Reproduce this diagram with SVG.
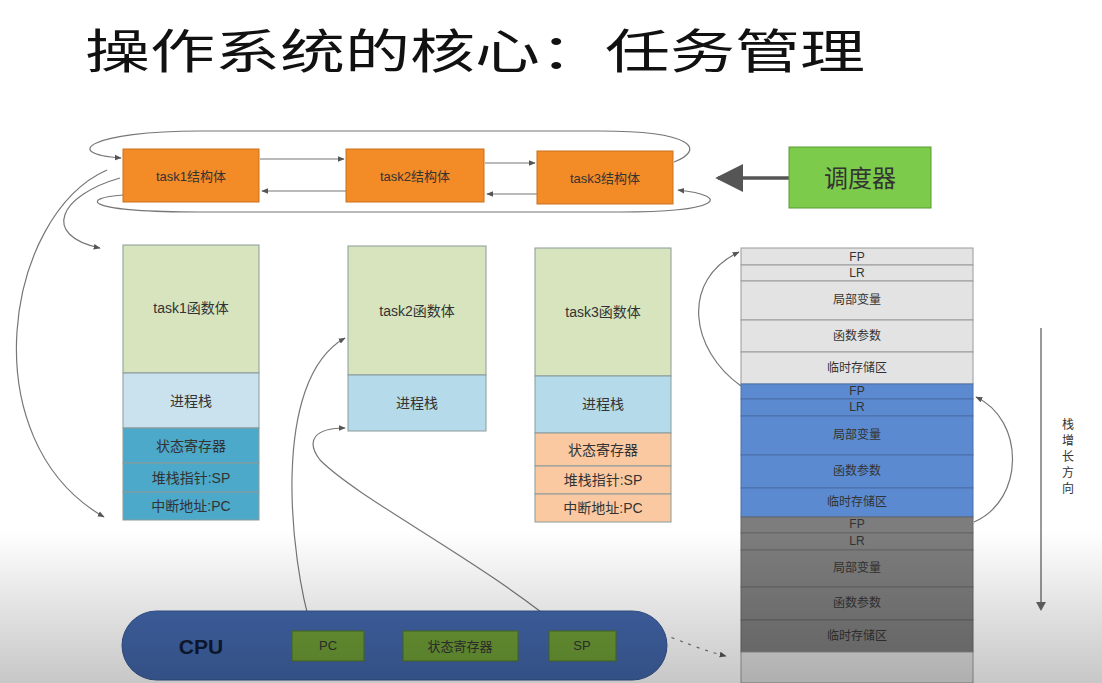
<svg xmlns="http://www.w3.org/2000/svg" width="1102" height="683" viewBox="0 0 1102 683">
<defs>
<marker id="ah" viewBox="0 0 10 10" refX="9" refY="5" markerWidth="7" markerHeight="7" orient="auto" markerUnits="userSpaceOnUse">
<path d="M0,1 L10,5 L0,9 z" fill="#555"/>
</marker>
<marker id="ahBig" viewBox="0 0 10 10" refX="9" refY="5" markerWidth="8" markerHeight="8" orient="auto">
<path d="M0,0 L10,5 L0,10 z" fill="#555"/>
</marker>
<linearGradient id="dim" x1="0" y1="0" x2="0" y2="1">
<stop offset="0" stop-color="#000" stop-opacity="0"/>
<stop offset="1" stop-color="#000" stop-opacity="0.22"/>
</linearGradient>
<style>
text{font-family:"Liberation Sans","Noto Sans CJK SC",sans-serif;fill:#333;text-anchor:middle;dominant-baseline:central}
.ts{fill:#F38B26;stroke:#C97020;stroke-width:1}
.cell{stroke:#8a9a9a;stroke-width:1}
.t13{font-size:13px}
.t14{font-size:14px}
.t12{font-size:12px}
.conn{fill:none;stroke:#777;stroke-width:1.2}
.f1{fill:#E3E3E3;stroke:#9a9a9a;stroke-width:1}
.f2{fill:#5B8AD0;stroke:#4a6ea8;stroke-width:1}
.f3{fill:#7d7d7d;stroke:#666;stroke-width:1}
.gb{fill:#6F9E36;stroke:#4e7526;stroke-width:1}
</style>
</defs>
<rect width="1102" height="683" fill="#fff"/>
<text x="85" y="51" style="text-anchor:start;font-size:47px;fill:#111" textLength="780" lengthAdjust="spacingAndGlyphs">操作系统的核心：任务管理</text>

<g id="connectors">
<line class="conn" x1="260" y1="159" x2="344" y2="159" marker-end="url(#ah)"/>
<line class="conn" x1="346" y1="191" x2="262" y2="191" marker-end="url(#ah)"/>
<line class="conn" x1="485" y1="163" x2="535" y2="163" marker-end="url(#ah)"/>
<line class="conn" x1="537" y1="194" x2="487" y2="194" marker-end="url(#ah)"/>
<path class="conn" d="M674,162 C705,150 695,131 600,131 L200,131 C90,131 60,154 121,158" marker-end="url(#ah)"/>
<path class="conn" d="M123,195 C80,198 82,212 200,212 L620,212 C722,212 732,196 678,190" marker-end="url(#ah)"/>
<line x1="789" y1="178" x2="718" y2="178" stroke="#555" stroke-width="3.5" marker-end="url(#ahBig)"/>
<path class="conn" d="M107,170 C5,215 -30,440 104,517" marker-end="url(#ah)"/>
<path class="conn" d="M120,178 C60,195 40,235 100,248" marker-end="url(#ah)"/>
<path class="conn" d="M312,630 C290,560 270,380 345,338" marker-end="url(#ah)"/>
<path class="conn" d="M565,631 C480,560 360,500 320,460 C305,440 315,428 345,428" marker-end="url(#ah)"/>
<path class="conn" d="M646,628 C680,640 700,650 726,656" stroke-dasharray="3,6" marker-end="url(#ah)"/>
<path class="conn" d="M741,386 C690,350 680,280 739,252" marker-end="url(#ah)"/>
<path class="conn" d="M974,522 C1025,500 1025,420 976,397" marker-end="url(#ah)"/>
<line x1="1041" y1="328" x2="1041" y2="602" stroke="#999" stroke-width="2"/>
<path d="M1036,602 L1046,602 L1041,611 z" fill="#666"/>
</g>

<g id="task1-struct"><rect class="ts" x="123" y="149" width="136" height="53"/><text class="t13" x="191" y="176">task1结构体</text></g>
<g id="task2-struct"><rect class="ts" x="346" y="149" width="138" height="53"/><text class="t13" x="415" y="176">task2结构体</text></g>
<g id="task3-struct"><rect class="ts" x="537" y="151" width="136" height="53"/><text class="t13" x="605" y="178">task3结构体</text></g>
<g id="scheduler"><rect x="789" y="147" width="142" height="61" fill="#7CCB4A" stroke="#5a9a35"/><text x="860" y="178" style="font-size:24px">调度器</text></g>

<g id="task1-body">
<rect class="cell" x="123" y="245" width="136" height="128" fill="#D7E4BD"/><text class="t14" x="191" y="308">task1函数体</text>
<rect class="cell" x="123" y="373" width="136" height="55" fill="#C9E2EE"/><text class="t14" x="191" y="401">进程栈</text>
<rect class="cell" x="123" y="428" width="136" height="35" fill="#4CA9C9"/><text class="t14" x="191" y="446">状态寄存器</text>
<rect class="cell" x="123" y="463" width="136" height="29" fill="#4CA9C9"/><text class="t14" x="191" y="478">堆栈指针:SP</text>
<rect class="cell" x="123" y="492" width="136" height="28" fill="#4CA9C9"/><text class="t14" x="191" y="506">中断地址:PC</text>
</g>
<g id="task2-body">
<rect class="cell" x="348" y="246" width="138" height="129" fill="#D7E4BD"/><text class="t14" x="417" y="311">task2函数体</text>
<rect class="cell" x="348" y="375" width="138" height="56" fill="#B5DBEA"/><text class="t14" x="417" y="403">进程栈</text>
</g>
<g id="task3-body">
<rect class="cell" x="535" y="248" width="136" height="128" fill="#D7E4BD"/><text class="t14" x="603" y="312">task3函数体</text>
<rect class="cell" x="535" y="376" width="136" height="57" fill="#B5DBEA"/><text class="t14" x="603" y="404">进程栈</text>
<rect class="cell" x="535" y="433" width="136" height="33" fill="#FAC9A1"/><text class="t14" x="603" y="450">状态寄存器</text>
<rect class="cell" x="535" y="466" width="136" height="28" fill="#FAC9A1"/><text class="t14" x="603" y="480">堆栈指针:SP</text>
<rect class="cell" x="535" y="494" width="136" height="28" fill="#FAC9A1"/><text class="t14" x="603" y="508">中断地址:PC</text>
</g>

<g id="stack-frame1">
<rect class="f1" x="741" y="248" width="232" height="17" fill="#F3F3F3"/><text class="t12" x="857" y="257">FP</text>
<rect class="f1" x="741" y="265" width="232" height="16"/><text class="t12" x="857" y="273">LR</text>
<rect class="f1" x="741" y="281" width="232" height="39"/><text class="t12" x="857" y="300">局部变量</text>
<rect class="f1" x="741" y="320" width="232" height="32"/><text class="t12" x="857" y="336">函数参数</text>
<rect class="f1" x="741" y="352" width="232" height="32"/><text class="t12" x="857" y="368">临时存储区</text>
</g>
<g id="stack-frame2">
<rect class="f2" x="741" y="384" width="232" height="15"/><text class="t12" x="857" y="391">FP</text>
<rect class="f2" x="741" y="399" width="232" height="17"/><text class="t12" x="857" y="407">LR</text>
<rect class="f2" x="741" y="416" width="232" height="39"/><text class="t12" x="857" y="435">局部变量</text>
<rect class="f2" x="741" y="455" width="232" height="33"/><text class="t12" x="857" y="471">函数参数</text>
<rect class="f2" x="741" y="488" width="232" height="29"/><text class="t12" x="857" y="502">临时存储区</text>
</g>
<g id="stack-frame3">
<rect class="f3" x="741" y="517" width="232" height="16"/><text class="t12" x="857" y="524">FP</text>
<rect class="f3" x="741" y="533" width="232" height="17"/><text class="t12" x="857" y="541">LR</text>
<rect class="f3" x="741" y="550" width="232" height="37"/><text class="t12" x="857" y="568">局部变量</text>
<rect class="f3" x="741" y="587" width="232" height="33" fill="#747474"/><text class="t12" x="857" y="603">函数参数</text>
<rect class="f3" x="741" y="620" width="232" height="32" fill="#6a6a6a"/><text class="t12" x="857" y="636">临时存储区</text>
<rect x="741" y="652" width="232" height="31" fill="#e0e0e0" stroke="#999"/>
</g>
<g id="stack-direction">
<text class="t12" x="1068" y="425">栈</text>
<text class="t12" x="1068" y="441">增</text>
<text class="t12" x="1068" y="457">长</text>
<text class="t12" x="1068" y="473">方</text>
<text class="t12" x="1068" y="489">向</text>
</g>

<g id="cpu">
<rect x="122" y="611" width="545" height="69" rx="34.5" fill="#4266AA" stroke="#34548e"/>
<text x="201" y="646" style="font-size:21px;font-weight:bold;fill:#0f1a33">CPU</text>
<rect class="gb" x="292" y="631" width="72" height="30"/><text class="t13" x="328" y="645">PC</text>
<rect class="gb" x="403" y="631" width="115" height="30"/><text class="t13" x="460" y="646">状态寄存器</text>
<rect class="gb" x="549" y="631" width="67" height="30"/><text class="t13" x="582" y="645">SP</text>
</g>
<rect x="0" y="530" width="1102" height="153" fill="url(#dim)"/>
</svg>
